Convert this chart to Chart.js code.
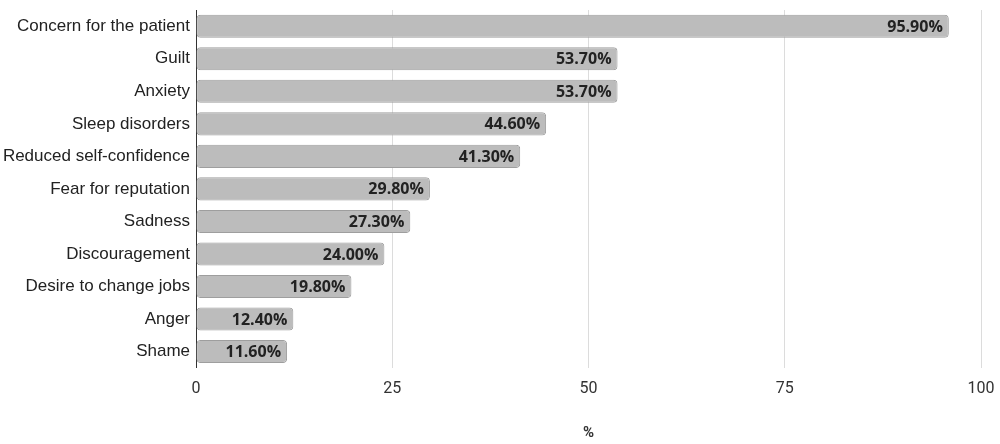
<!DOCTYPE html>
<html>
<head>
<meta charset="utf-8">
<script src="https://cdn.jsdelivr.net/npm/chart.js@4.4.1/dist/chart.umd.min.js"></script>
<style>
  html, body { margin: 0; padding: 0; background: #fff; }
  #wrap { width: 1000px; height: 444px; position: relative; }
</style>
</head>
<body>
<div id="wrap"><canvas id="myChart"></canvas></div>
<script>
// categories + values (%)
var labels = ['Concern for the patient', 'Guilt', 'Anxiety', 'Sleep disorders',
  'Reduced self-confidence', 'Fear for reputation', 'Sadness', 'Discouragement',
  'Desire to change jobs', 'Anger', 'Shame'];
var values = [95.9, 53.7, 53.7, 44.6, 41.3, 29.8, 27.3, 24.0, 19.8, 12.4, 11.6];
var xTicks = [0, 25, 50, 75, 100];

// value text at the end of each bar
const barLabels = {
  id: 'barLabels',
  afterDatasetsDraw: (chart) => {
    const ctx = chart.ctx;
    const meta = chart.getDatasetMeta(0);
    ctx.save();
    ctx.font = 'bold 16px "Open Sans", sans-serif';
    ctx.fillStyle = '#222';
    ctx.textAlign = 'right';
    ctx.textBaseline = 'middle';
    meta.data.forEach(function(bar, i) {
      ctx.fillText(values[i].toFixed(2) + '%', bar.x - 6, bar.y + 1);
    });
    ctx.restore();
  }
};

var ctx = document.getElementById('myChart').getContext('2d');
var chart = new Chart(ctx, {
  type: 'bar',
  data: {
    labels: labels,
    datasets: [{
      data: values,
      backgroundColor: '#bcbcbc',
      borderColor: '#9e9e9e',
      borderWidth: 1,
      borderRadius: 4,
      borderSkipped: false,
      barPercentage: 0.71,
      categoryPercentage: 1
    }]
  },
  plugins: [barLabels],
  options: {
    indexAxis: 'y',
    responsive: true,
    maintainAspectRatio: false,
    animation: false,
    layout: { padding: { top: 10, right: 19, bottom: 2, left: 0 } },
    scales: {
      x: {
        min: 0,
        max: 100,
        afterBuildTicks: function(axis) {
          axis.ticks = xTicks.map(function(v) { return { value: v }; });
        },
        afterFit: function(axis) { axis.paddingRight = 0; axis.paddingLeft = 0; },
        grid: { color: '#dcdcdc', drawTicks: false },
        border: { display: false },
        ticks: {
          color: '#333',
          padding: 12,
          font: { family: 'Roboto, sans-serif', size: 16 }
        },
        title: {
          display: true,
          text: '%',
          color: '#333',
          padding: { top: 13, bottom: 0 },
          font: { family: 'Roboto, sans-serif', size: 15, weight: 'bold' }
        }
      },
      y: {
        afterFit: function(axis) {
          axis.width = 196;
          axis.paddingTop = 0;
          axis.paddingBottom = 0;
        },
        grid: { display: false, drawTicks: false },
        border: { display: true, color: '#333', width: 1 },
        ticks: {
          color: '#222',
          padding: 6,
          font: { family: '"Liberation Sans", Arial, sans-serif', size: 17 }
        }
      }
    },
    plugins: {
      legend: { display: false },
      title: { display: false },
      tooltip: { enabled: false }
    }
  }
});
</script>
</body>
</html>
